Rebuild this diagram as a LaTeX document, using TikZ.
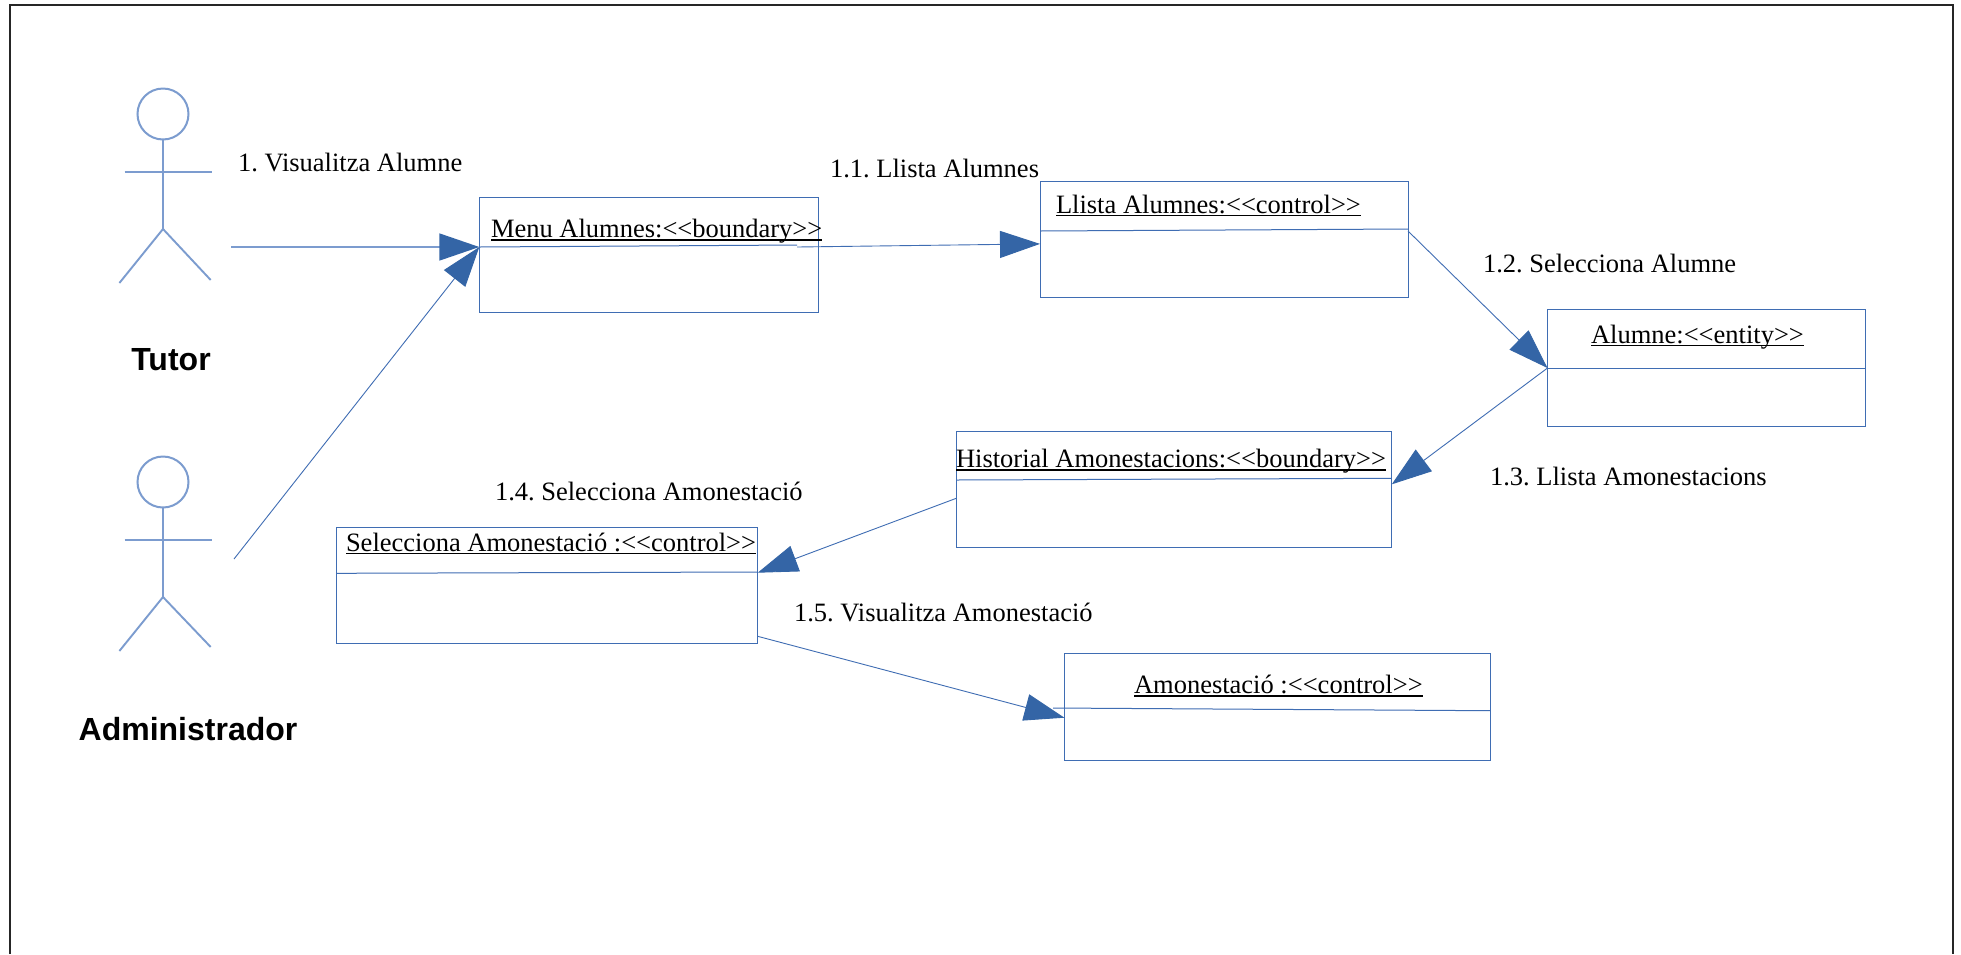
\documentclass[tikz,border=0pt]{standalone}
\usepackage{fontspec}
\usetikzlibrary{arrows.meta}
\setmainfont{Liberation Serif}
\newfontfamily\actorfont{Liberation Sans}
\definecolor{umlblue}{HTML}{3F6DB3}
\definecolor{actorblue}{HTML}{7C9CCF}
\definecolor{headblue}{HTML}{3465A6}
\newsavebox{\ulbox}
\newcommand{\ulined}[1]{\sbox{\ulbox}{#1}\rlap{\usebox{\ulbox}}\rule[-3.2pt]{\wd\ulbox}{1.3pt}}
\tikzset{
  umlbox/.style={draw=umlblue,line width=1pt,fill=white,inner sep=0pt,outer sep=0pt},
  divider/.style={draw=umlblue,line width=1pt},
  msg/.style={draw=umlblue,line width=0.9pt,-{Triangle[length=40pt,width=27pt,color=headblue]}},
  limb/.style={draw=actorblue,line width=1.9pt},
  head/.style={circle,draw=actorblue,line width=2pt,minimum size=51pt,inner sep=0pt,outer sep=0pt},
  lbl/.style={anchor=base west,inner sep=0pt,outer sep=0pt,font=\frenchspacing\fontsize{26.5pt}{30pt}\selectfont},
  actorname/.style={anchor=center,inner sep=0pt,outer sep=0pt,font=\actorfont\bfseries\fontsize{32pt}{36pt}\selectfont},
}
\begin{document}
\begin{tikzpicture}[x=1pt,y=-1pt]
\useasboundingbox (0,0) rectangle (1961,954);
\fill[white] (0,0) rectangle (1961,954);
% outer frame
\draw[line width=1.2pt,black!85] (10,954) -- (10,5) -- (1953,5) -- (1953,954);

% boxes
\node[umlbox,minimum width=338.7pt,minimum height=115pt] (menu) at (648.65,254.7) {};
\node[umlbox,minimum width=368pt,minimum height=116.7pt] (llista) at (1224,239.6) {};
\node[umlbox,minimum width=318pt,minimum height=116.3pt] (alumne) at (1706.5,368) {};
\node[umlbox,minimum width=435.5pt,minimum height=116.6pt] (hist) at (1174,489.3) {};
\node[umlbox,minimum width=421.4pt,minimum height=116.6pt] (sel) at (547,585.3) {};
\node[umlbox,minimum width=425.6pt,minimum height=107pt] (amon) at (1277.2,706.7) {};

% compartment dividers
\coordinate (menuDivEnd) at (797,245);
\coordinate (amonDivStart) at (1053,708);
\draw[divider] ([yshift=7.7pt]menu.west) -- (menuDivEnd);
\draw[divider] ([yshift=8.6pt]llista.west) -- ([yshift=10.6pt]llista.east);
\draw[divider] (alumne.west) -- (alumne.east);
\draw[divider] ([yshift=9.3pt]hist.west) -- ([yshift=11pt]hist.east);
\draw[divider] ([yshift=12pt]sel.west) -- ([yshift=13.3pt]sel.east);
\draw[divider] (amonDivStart) -- ([yshift=-4pt]amon.east);

% box titles
\node[lbl] (tMenu) at (491,237.5) {\ulined{Menu Alumnes:<{}<boundary>{}>}};
\node[lbl] (tLlista) at (1056,213) {\ulined{Llista Alumnes:<{}<control>{}>}};
\node[lbl] (tAlumne) at (1591,343) {\ulined{Alumne:<{}<entity>{}>}};
\node[lbl] (tHist) at (956,467.5) {\ulined{Historial Amonestacions:<{}<boundary>{}>}};
\node[lbl] (tSel) at (346,551) {\ulined{Selecciona Amonestació :<{}<control>{}>}};
\node[lbl] (tAmon) at (1134,693.5) {\ulined{Amonestació :<{}<control>{}>}};

% message labels
\node[lbl] (m1) at (238,171) {1. Visualitza Alumne};
\node[lbl] (m11) at (830,177) {1.1. Llista Alumnes};
\node[lbl] (m12) at (1483,272) {1.2. Selecciona Alumne};
\node[lbl] (m13) at (1490,485.5) {1.3. Llista Amonestacions};
\node[lbl] (m14) at (495,500) {1.4. Selecciona Amonestació};
\node[lbl] (m15) at (794,621.5) {1.5. Visualitza Amonestació};

% actors
\node[head] (tutorHead) at (163,114) {};
\coordinate (tutorHip) at (163,229);
\coordinate (tutorArmL) at (124.6,172);
\coordinate (tutorArmR) at (212,172);
\coordinate (tutorLegL) at (119.4,283);
\coordinate (tutorLegR) at (210.7,280);
\draw[limb] (tutorHead.south) -- (tutorHip);
\draw[limb] (tutorArmL) -- (tutorArmR);
\draw[limb] (tutorLegL) -- (tutorHip) -- (tutorLegR);
\node[actorname] (tutorName) at (171,360) {Tutor};

\node[head] (adminHead) at (163,482) {};
\coordinate (adminHip) at (163,597);
\coordinate (adminArmL) at (124.6,540);
\coordinate (adminArmR) at (212,540);
\coordinate (adminLegL) at (119.4,651);
\coordinate (adminLegR) at (210.7,647);
\draw[limb] (adminHead.south) -- (adminHip);
\draw[limb] (adminArmL) -- (adminArmR);
\draw[limb] (adminLegL) -- (adminHip) -- (adminLegR);
\node[actorname] (adminName) at (188,729.5) {Administrador};

% connectors
\coordinate (tutorHand) at (231,247);
\coordinate (adminHand) at (234,559);
\coordinate (menuOut) at (797,247);
\draw[msg,draw=actorblue,line width=1.6pt] (tutorHand) -- ([yshift=7.7pt]menu.west);
\draw[msg] (adminHand) -- ([yshift=7.7pt]menu.west);
\draw[msg] (menuOut) -- ([yshift=-4.3pt]llista.west);
\draw[msg] ([yshift=8.6pt]llista.east) -- (alumne.west);
\draw[msg] (alumne.west) -- ([yshift=5pt]hist.east);
\draw[msg] ([yshift=-9pt]hist.west) -- ([yshift=12.6pt]sel.east);
\draw[msg] ([yshift=-51pt]sel.east) -- ([yshift=-11pt]amon.west);
\end{tikzpicture}
\end{document}
